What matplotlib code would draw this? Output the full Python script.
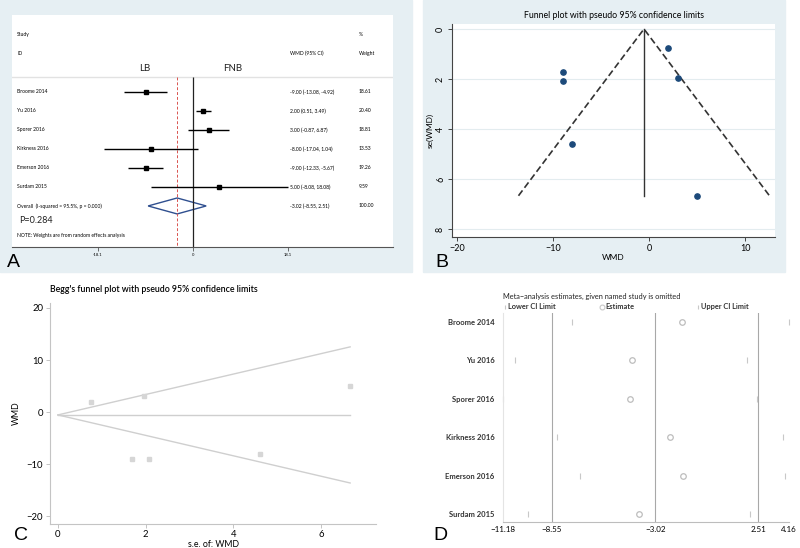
import matplotlib
matplotlib.use("Agg")
import matplotlib.pyplot as plt
import numpy as np
from matplotlib.patches import Rectangle, Polygon

plt.rcParams['font.family'] = ['Lato', 'DejaVu Sans']

# ---- data ----
studies = ['Broome 2014', 'Yu 2016', 'Sporer 2016', 'Kirkness 2016', 'Emerson 2016', 'Surdam 2015']
wmd = [-9.00, 2.00, 3.00, -8.00, -9.00, 5.00]
ci_low = [-13.08, 0.51, -0.87, -17.04, -12.33, -8.08]
ci_high = [-4.92, 3.49, 6.87, 1.04, -5.67, 18.08]
weights = [18.61, 20.40, 18.81, 13.53, 19.26, 9.59]
overall, overall_low, overall_high = -3.02, -8.55, 2.51
i_squared = 95.5
p_value = 0.284
se = [2.08, 0.76, 1.97, 4.61, 1.70, 6.67]
fixed_est = -0.55

# leave-one-out (study omitted)
loo_est = [-1.58, -4.26, -4.37, -2.22, -1.52, -3.88]
loo_low = [-7.48, -10.54, -11.18, -8.28, -7.05, -9.84]
loo_high = [4.16, 1.91, 2.45, 3.84, 3.95, 2.07]

W, H = 800, 548
fig = plt.figure(figsize=(W / 100, H / 100), dpi=100)
fig.patch.set_facecolor('white')

def px_axes(x0, y0, x1, y1):
    return fig.add_axes([x0 / W, 1 - y1 / H, (x1 - x0) / W, (y1 - y0) / H])

# light blue panels behind A and B
blue = '#e6eff3'
bg = fig.add_axes([0, 0, 1, 1], zorder=-10)
bg.set_xlim(0, W)
bg.set_ylim(H, 0)
bg.axis('off')
bg.add_patch(Rectangle((0, 0), 412, 272, color=blue))
bg.add_patch(Rectangle((423, 0), 362, 272, color=blue))

# ================= A : forest plot =================
ax = px_axes(12, 15, 393, 247)
ax.set_facecolor('white')
ax.set_xlim(-34.48, 38.10)
ax.set_ylim(8.16, -4.05)
for s in ['top', 'left', 'right']:
    ax.spines[s].set_visible(False)
ax.spines['bottom'].set_color('#555555')
ax.set_yticks([])
ax.set_xticks([-18.1, 0, 18.1])
ax.set_xticklabels(['-18.1', '0', '18.1'], fontsize=3)
ax.tick_params(axis='x', length=3, width=0.6, color='#555555', pad=1)

rows = np.arange(len(studies))
x_lab, x_ci, x_w = -33.5, 18.5, 31.6
ax.axhline(-0.79, color='#e2e2e2', lw=1)
ax.vlines(0, -0.79, 8.16, colors='#222222', lw=0.9)
ax.vlines(overall, -0.79, 8.16, colors='#d9534f', lw=0.7, linestyles=(0, (3, 2)))
ax.hlines(rows, ci_low, ci_high, colors='black', lw=1)
ax.plot(wmd, rows, 's', color='black', ms=3)
ov_row = len(studies)
ax.add_patch(Polygon([(overall_low, ov_row), (overall, ov_row - 0.42),
                      (overall_high, ov_row), (overall, ov_row + 0.42)],
                     closed=True, fill=False, edgecolor='#2f4f8f', lw=1))

fs = 3.6
ax.text(x_lab, -3.05, 'Study', fontsize=fs, va='center')
ax.text(x_lab, -2.05, 'ID', fontsize=fs, va='center')
ax.text(x_ci, -2.05, 'WMD (95% CI)', fontsize=fs, va='center')
ax.text(x_w, -3.05, '%', fontsize=fs, va='center')
ax.text(x_w, -2.05, 'Weight', fontsize=fs, va='center')
ax.text(-9.1, -1.26, 'LB', fontsize=7, va='center', ha='center', color='#222222')
ax.text(7.6, -1.26, 'FNB', fontsize=7, va='center', ha='center', color='#222222')
for i, name in enumerate(studies):
    ax.text(x_lab, i, name, fontsize=fs, va='center')
    ax.text(x_ci, i, f'{wmd[i]:.2f} ({ci_low[i]:.2f}, {ci_high[i]:.2f})', fontsize=fs, va='center')
    ax.text(x_w, i, f'{weights[i]:.2f}', fontsize=fs, va='center')
ax.text(x_lab, ov_row, f'Overall  (I-squared = {i_squared}%, p = 0.000)', fontsize=fs, va='center')
ax.text(x_ci, ov_row, f'{overall:.2f} ({overall_low:.2f}, {overall_high:.2f})', fontsize=fs, va='center')
ax.text(x_w, ov_row, '100.00', fontsize=fs, va='center')
ax.text(x_lab + 0.3, 6.79, f'P={p_value}', fontsize=6.5, va='center', color='#222222')
ax.text(x_lab, 7.53, 'NOTE: Weights are from random effects analysis', fontsize=fs, va='center')

# ================= B : funnel plot =================
bx = px_axes(452, 24, 775, 237)
bx.set_facecolor('white')
bx.set_xlim(-20.55, 13.1)
bx.set_ylim(8.32, -0.2)
for s in ['top', 'right']:
    bx.spines[s].set_visible(False)
for s in ['left', 'bottom']:
    bx.spines[s].set_color('#444444')
    bx.spines[s].set_linewidth(0.8)
bx.set_xticks([-20, -10, 0, 10])
bx.set_xticklabels(['\u221220', '\u221210', '0', '10'])
bx.set_yticks([0, 2, 4, 6, 8])
bx.tick_params(labelsize=6.5, length=3, width=0.7, color='#444444', pad=2)
for t in bx.get_yticklabels():
    t.set_rotation(90)
    t.set_va('center')
bx.grid(axis='y', color='#e3ecef', lw=0.8)
bx.set_axisbelow(True)
se_max = max(se)
bx.plot([fixed_est - 1.96 * se_max, fixed_est, fixed_est + 1.96 * se_max], [se_max, 0, se_max],
        color='#333333', lw=1.2, ls=(0, (4, 2)))
bx.plot([fixed_est, fixed_est], [0, se_max], color='#333333', lw=1)
bx.plot(wmd, se, 'o', color='#1c4a7a', ms=3.8)
bx.set_xlabel('WMD', fontsize=6, labelpad=1)
bx.set_ylabel('se(WMD)', fontsize=6, labelpad=2)
bx.set_title('Funnel plot with pseudo 95% confidence limits', fontsize=6.3, pad=4)

# ================= C : Begg's funnel =================
cx = px_axes(50, 303, 376, 524)
cx.set_xlim(-0.18, 7.26)
cx.set_ylim(-21.5, 20.95)
for s in ['top', 'right']:
    cx.spines[s].set_visible(False)
for s in ['left', 'bottom']:
    cx.spines[s].set_color('#c4c4c4')
    cx.spines[s].set_linewidth(0.8)
cx.set_xticks([0, 2, 4, 6])
cx.set_yticks([-20, -10, 0, 10, 20])
cx.set_yticklabels(['\u221220', '\u221210', '0', '10', '20'])
cx.tick_params(labelsize=6.8, length=3, width=0.7, color='#c4c4c4', pad=2)
cx.tick_params(axis='x', pad=1)
grey = '#cfcfcf'
cx.plot([0, se_max], [fixed_est, fixed_est + 1.96 * se_max], color=grey, lw=1)
cx.plot([0, se_max], [fixed_est, fixed_est - 1.96 * se_max], color=grey, lw=1)
cx.plot([0, se_max], [fixed_est, fixed_est], color=grey, lw=1)
cx.plot(se, wmd, 's', color='#d6d6d6', ms=3.5)
cx.set_xlabel('s.e. of: WMD', fontsize=6.3, labelpad=1)
cx.set_ylabel('WMD', fontsize=6.3, labelpad=4)
cx.set_title("Begg's funnel plot with pseudo 95% confidence limits", fontsize=6.3,
             loc='left', pad=8, fontweight='semibold')

# ================= D : influence analysis =================
dx = px_axes(503, 313, 789, 522)
dx.set_xlim(-11.18, 4.16)
dx.set_ylim(5.2, -0.23)
for s in ['top', 'right']:
    dx.spines[s].set_visible(False)
dx.spines['left'].set_color('#e4e4e4')
dx.spines['bottom'].set_color('#bdbdbd')
dx.spines['bottom'].set_linewidth(0.8)
dx.set_yticks(rows)
dx.set_yticklabels(studies, fontsize=5.5, fontweight='bold', color='#333333')
xt = [-11.18, overall_low, overall, overall_high, 4.16]
dx.set_xticks(xt)
dx.set_xticklabels([f'{v:.2f}'.replace('-', '\u2212') for v in xt], fontsize=5.8)
dx.tick_params(axis='y', length=0, pad=6)
dx.tick_params(axis='x', length=0, pad=3)
for v in [overall_low, overall, overall_high]:
    dx.axvline(v, color='#a8a8a8', lw=0.8)
lg = '#c8c8c8'
dx.plot(loo_low, rows, '|', color=lg, ms=5, mew=0.8, clip_on=False)
dx.plot(loo_high, rows, '|', color=lg, ms=5, mew=0.8, clip_on=False)
dx.plot(loo_est, rows, 'o', mfc='none', mec='#bdbdbd', ms=4, mew=0.9, clip_on=False)
tr = dx.transAxes
dx.text(0.0, 1.081, 'Meta\u2212analysis estimates, given named study is omitted', transform=tr,
        fontsize=5.3, va='center', color='#222222')
for xf, mk, lab in [(0.007, '|', 'Lower CI Limit'), (0.346, 'o', 'Estimate'), (0.682, '|', 'Upper CI Limit')]:
    dx.plot([xf], [1.029], mk, transform=tr, clip_on=False, color=lg, mfc='none', mec=lg, ms=3.5, mew=0.8)
    dx.text(xf + 0.012, 1.029, lab, transform=tr, fontsize=5.3, fontweight='bold', va='center',
            color='#333333')

# ---- panel letters ----
for x, y, letter in [(7, 267, 'A'), (435, 267, 'B'), (14, 540, 'C'), (433, 540, 'D')]:
    fig.text(x / W, 1 - y / H, letter, fontsize=14, family='Liberation Sans', va='baseline')

fig.savefig('out.png', dpi=100, facecolor=fig.get_facecolor())
